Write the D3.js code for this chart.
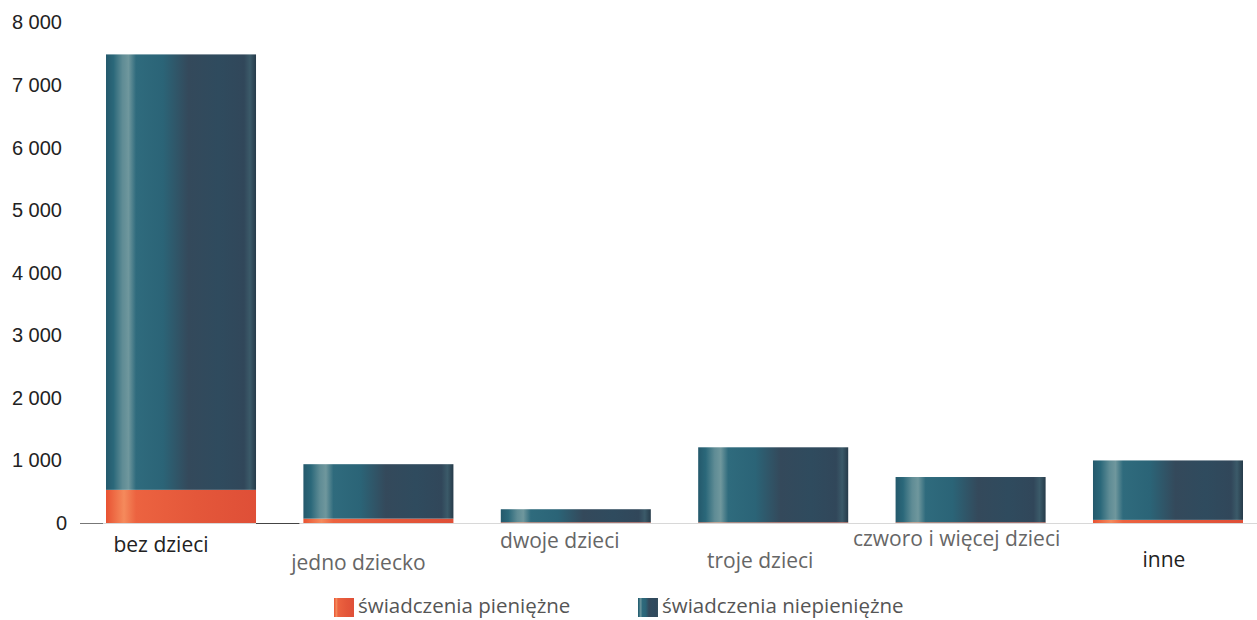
<!DOCTYPE html>
<html><head><meta charset="utf-8">
<script src="https://cdn.jsdelivr.net/npm/d3@7"></script>
<style>body{margin:0;background:#fff}svg{display:block}</style>
</head><body><svg id="c" width="1257" height="620"></svg>
<script>
const categories = ["bez dzieci","jedno dziecko","dwoje dzieci","troje dzieci","czworo i więcej dzieci","inne"];
const cash = [530, 70, 10, 10, 10, 50];
const nonCash = [6960, 870, 210, 1200, 725, 950];
const tickValues = [0,1000,2000,3000,4000,5000,6000,7000,8000];
const seriesNames = ["świadczenia pieniężne","świadczenia niepieniężne"];
const labelY = [552, 570, 548, 568, 546, 567];
const labelShift = [-20, -20, -16, -13, -14, -4];
const labelDark = [true,false,false,false,false,true];

const svg = d3.select("#c");
const W = 1257, H = 620;
const x = d3.scaleBand().domain(categories).range([106, 1243]).paddingInner(0.24).paddingOuter(0);
const y = d3.scaleLinear().domain([0,8000]).range([523, 22.5]);

const defs = svg.append("defs");
function grad(id, stops){
  const g = defs.append("linearGradient").attr("id",id).attr("x1","0%").attr("x2","100%").attr("y1","0%").attr("y2","0%");
  stops.forEach(s=>g.append("stop").attr("offset",s[0]).attr("stop-color",s[1]));
}
grad("gBlue",[["0%","#24596c"],["5%","#2b687a"],["11%","#5f8c95"],["15%","#6f979d"],["20%","#2f6b7d"],["38%","#2b6477"],["55%","#34495b"],["75%","#2f4b5e"],["92%","#31475a"],["96%","#3b5a69"],["100%","#263b4a"]]);
grad("gRed",[["0%","#e85232"],["12%","#f58a5c"],["20%","#ec6340"],["60%","#e4573a"],["100%","#df4f37"]]);

// baseline
svg.append("line").attr("x1",82).attr("x2",W).attr("y1",y(0)+0.5).attr("y2",y(0)+0.5).attr("stroke","#d8d8d8").attr("stroke-width",1);
svg.append("line").attr("x1",x(categories[0])+x.bandwidth()).attr("x2",x(categories[1])-4).attr("y1",y(0)+0.5).attr("y2",y(0)+0.5).attr("stroke","#444").attr("stroke-width",1.2);
svg.append("line").attr("x1",80).attr("x2",103).attr("y1",y(0)+0.5).attr("y2",y(0)+0.5).attr("stroke","#777").attr("stroke-width",1);

// y axis
const yAxis = d3.axisLeft(y).tickValues(tickValues).tickSize(0).tickPadding(0)
  .tickFormat(d => d3.format(",")(d).replace(/,/g," "));
const ya = svg.append("g").attr("transform",`translate(62,0)`).call(yAxis);
ya.select(".domain").remove();
ya.selectAll("text").attr("font-family","Liberation Sans, Arial, sans-serif").attr("font-size",20).attr("fill","#222")
  .attr("dx", d => d === 0 ? 5 : 0);

// bars
categories.forEach((c,i)=>{
  const x0 = x(c), bw = x.bandwidth();
  const y0 = y(0), y1 = y(cash[i]), y2 = y(cash[i]+nonCash[i]);
  svg.append("rect").attr("x",x0).attr("width",bw).attr("y",y1).attr("height",y0-y1).attr("fill","url(#gRed)");
  svg.append("rect").attr("x",x0).attr("width",bw).attr("y",y2).attr("height",y1-y2).attr("fill","url(#gBlue)");
  svg.append("text").attr("x",x0+bw/2+labelShift[i]).attr("y",labelY[i])
    .attr("text-anchor","middle").attr("font-family","Open Sans, sans-serif").attr("font-size",21)
    .attr("fill",labelDark[i]?"#222":"#666").text(c);
});

// legend
const leg = [{n:seriesNames[0],f:"url(#gRed)",x:334},{n:seriesNames[1],f:"url(#gBlue)",x:638}];
leg.forEach(l=>{
  svg.append("rect").attr("x",l.x).attr("y",598).attr("width",20).attr("height",19).attr("fill",l.f);
  svg.append("text").attr("x",l.x+24).attr("y",613).attr("font-family","Open Sans, sans-serif").attr("font-size",20.5).attr("fill","#555").text(l.n);
});
</script></body></html>
